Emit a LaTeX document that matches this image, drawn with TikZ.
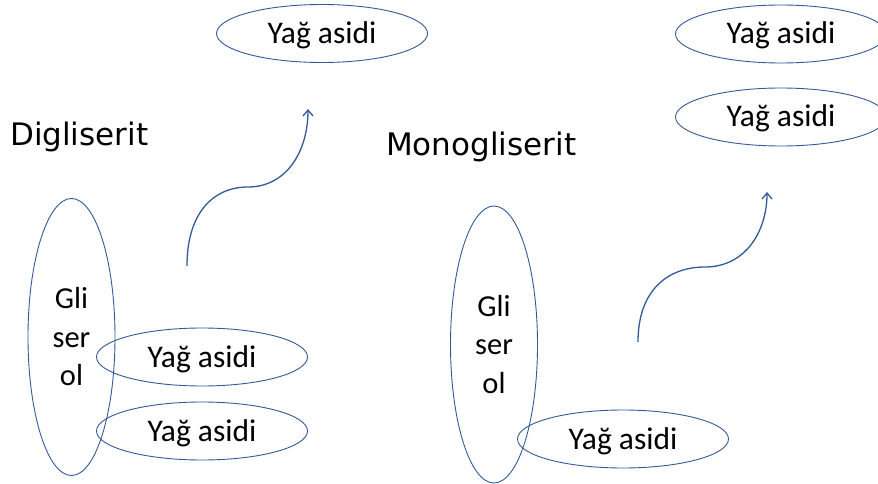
\documentclass[tikz,border=0pt]{standalone}
\usepackage{fontspec}
\setmainfont{Carlito}
\newfontfamily\titlefont{DejaVu Sans}
\usetikzlibrary{shapes.geometric,arrows.meta}
\definecolor{lineblue}{RGB}{52,90,150}
\tikzset{
  fatty/.style={draw=lineblue, line width=0.9pt, ellipse, inner sep=0pt,
    minimum width=211pt, minimum height=58pt, text height=24pt, text depth=4pt,
    font=\fontsize{31.5}{36}\selectfont},
  glycerol/.style={draw=lineblue, line width=0.9pt, ellipse, inner sep=0pt,
    minimum width=87pt, minimum height=277pt, align=center,
    font=\fontsize{30.5}{38.5}\selectfont},
  titletext/.style={anchor=base west, inner sep=0pt, font=\titlefont\fontsize{31}{36}\selectfont},
  curvearrow/.style={draw=lineblue, line width=1.3pt, -{Straight Barb[length=6pt,width=10pt]}}
}
\begin{document}
\begin{tikzpicture}[x=1pt,y=-1pt]
\useasboundingbox[fill=white] (0,0) rectangle (878,484);
% left group
\node[titletext] (dtitle) at (10,146) {Digliserit};
\node[glycerol] (gl1) at (71.5,337) {Gli\\ser\\ol};
\node[fatty] (fa1) at (202,357) {Yağ asidi};
\node[fatty] (fa2) at (202,431) {Yağ asidi};
\node[fatty] (fa3) at (322,33.5) {Yağ asidi};
\coordinate (a1s) at (187,266);
\coordinate (a1m) at (248,187);
\coordinate (a1e) at (308,109);
\draw[curvearrow] (a1s) .. controls (187,212) and (214,187) .. (a1m)
  .. controls (286,187) and (308,152) .. (a1e);
% right group
\node[titletext] (mtitle) at (386,155) {Monogliserit};
\node[glycerol] (gl2) at (494,344.5) {Gli\\ser\\ol};
\node[fatty] (fa4) at (623,439) {Yağ asidi};
\node[fatty] (fa5) at (781,34) {Yağ asidi};
\node[fatty] (fa6) at (781,117) {Yağ asidi};
\coordinate (a2s) at (638,342);
\coordinate (a2m) at (705,267);
\coordinate (a2e) at (767,192);
\draw[curvearrow] (a2s) .. controls (638,290) and (668,267) .. (a2m)
  .. controls (745,267) and (767,232) .. (a2e);
\end{tikzpicture}
\end{document}
